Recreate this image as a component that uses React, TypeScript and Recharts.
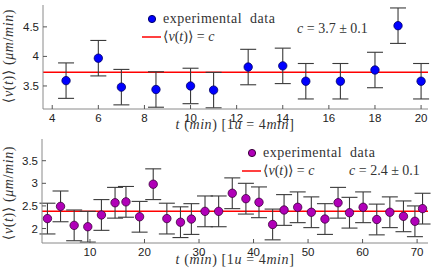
import React from 'react'
import { ComposedChart, Scatter, ErrorBar, XAxis, YAxis, ReferenceLine, Legend, Label } from 'recharts'

// top panel: 1u = 4 min sampling
const topTimes = [4.6, 6, 7, 8.5, 10, 11, 12.5, 14, 15, 16.5, 18, 19, 20]
const topSpeeds = [3.59, 3.97, 3.48, 3.44, 3.5, 3.43, 3.82, 3.84, 3.58, 3.58, 3.77, 4.52, 3.58]
const topErrors = [0.3, 0.3, 0.3, 0.3, 0.3, 0.3, 0.3, 0.3, 0.3, 0.3, 0.3, 0.3, 0.3]
const topMean = 3.73
const topXTicks = [4, 6, 8, 10, 12, 14, 16, 18, 20]
const topYTicks = [3.5, 4, 4.5]

// bottom panel
const bottomTimes = [2.2, 4.6, 7.1, 9.6, 12.1, 14.6, 16.6, 19.1, 21.6, 24.1, 26.6, 28.6, 31.1, 33.6, 36.1, 38.6, 41.0, 43.5, 45.6, 48.1, 50.6, 53.1, 55.5, 57.6, 60.1, 62.6, 65.0, 67.5, 69.6, 71.0]
const bottomSpeeds = [2.22, 2.49, 2.07, 2.04, 2.3, 2.57, 2.59, 2.26, 2.98, 2.22, 2.14, 2.21, 2.38, 2.38, 2.78, 2.66, 2.58, 2.09, 2.41, 2.47, 2.36, 2.21, 2.57, 2.35, 2.47, 2.2, 2.36, 2.27, 2.16, 2.44]
const bottomErrors = [0.34, 0.34, 0.34, 0.34, 0.34, 0.34, 0.34, 0.34, 0.34, 0.34, 0.34, 0.34, 0.34, 0.34, 0.34, 0.34, 0.34, 0.34, 0.34, 0.34, 0.34, 0.34, 0.34, 0.34, 0.34, 0.34, 0.34, 0.34, 0.34, 0.34]
const bottomMean = 2.38
const bottomXTicks = [10, 20, 30, 40, 50, 60, 70]
const bottomYTicks = [2, 2.5, 3, 3.5]

const SANS = '"Liberation Sans", Arial, sans-serif'
const SERIF = '"Liberation Serif", "DejaVu Serif", serif'
const BOX = '#8a8a8a'
const TICK = '#555'
const serif = { fontFamily: SERIF, fontSize: 14, fill: '#333' }
const sans = { fontFamily: SANS, fontSize: 11.5, fill: '#222' }

const BottomTick = ({ x, y, payload }: any) => (
  <g>
    <line x1={x} y1={y} x2={x} y2={y - 4} stroke={TICK} />
    <text x={x} y={y + 13} textAnchor="middle" style={sans}>{payload.value}</text>
  </g>
)
const LeftTick = ({ x, y, payload }: any) => (
  <g>
    <line x1={x} y1={y} x2={x + 4} y2={y} stroke={TICK} />
    <text x={x - 4} y={y + 4} textAnchor="end" style={sans}>{payload.value}</text>
  </g>
)
const TopTick = ({ x, y }: any) => <line x1={x} y1={y} x2={x} y2={y + 4} stroke={TICK} />
const RightTick = ({ x, y }: any) => <line x1={x} y1={y} x2={x - 4} y2={y} stroke={TICK} />

const yLabel = (cx: number, cy: number) => (
  <text transform={`translate(${cx},${cy}) rotate(-90)`} textAnchor="middle" style={serif} letterSpacing={0.6}>
    ⟨<tspan fontStyle="italic">v</tspan>(<tspan fontStyle="italic">t</tspan>)⟩ (<tspan fontStyle="italic">μm</tspan>/<tspan fontStyle="italic">min</tspan>)
  </text>
)
const xLabel = (cx: number, y: number) => (
  <text x={cx} y={y} textAnchor="middle" style={serif} letterSpacing={0.6}>
    <tspan fontStyle="italic">t</tspan> (<tspan fontStyle="italic">min</tspan>) [1<tspan fontStyle="italic">u</tspan> = 4<tspan fontStyle="italic">min</tspan>]
  </text>
)

function LegendBox({ color, edge, cText, cLeft }: { color: string; edge: string; cText: string; cLeft: number }) {
  return (
    <svg width={200} height={40} style={{ overflow: 'visible', display: 'block' }}>
      <circle cx={14} cy={11} r={3.6} fill={color} stroke={edge} />
      <text x={25} y={15} style={serif} letterSpacing={0.5}>
        experimental{'\u00a0\u00a0'}data
      </text>
      <line x1={4} x2={23} y1={29} y2={29} stroke="#ff0000" strokeWidth={1.5} />
      <text x={25} y={33} style={serif}>
        ⟨<tspan fontStyle="italic">v</tspan>(<tspan fontStyle="italic">t</tspan>)⟩ = <tspan fontStyle="italic">c</tspan>
      </text>
      <text x={cLeft} y={cText === 'top' ? 25 : 33} style={serif}>
        <tspan fontStyle="italic">c</tspan> = {cText === 'top' ? '3.7' : '2.4'} ± 0.1
      </text>
    </svg>
  )
}

function Panel(props: {
  width: number; height: number; top: number; left: number; xAxisH: number
  data: any[]; xDomain: [number, number]; yDomain: [number, number]
  xTicks: number[]; yTicks: number[]; mean: number
  fill: string; edge: string; legendTop: number; legendLeft: number; which: string; cLeft: number
  yLabelY: number; xLabelY: number
}) {
  const { data, xDomain, yDomain, xTicks, yTicks } = props
  return (
    <ComposedChart width={props.width} height={props.height} data={data}
      margin={{ top: props.top, right: 8, bottom: 0, left: 0 }}>
      <XAxis dataKey="t" type="number" domain={xDomain} ticks={xTicks} interval={0}
        height={props.xAxisH} tickSize={0} tickMargin={0} tick={BottomTick}
        axisLine={{ stroke: BOX }} allowDataOverflow>
        <Label content={() => xLabel(235, props.xLabelY)} />
      </XAxis>
      <XAxis xAxisId="top" orientation="top" type="number" domain={xDomain} ticks={xTicks} interval={0}
        height={0} tickSize={0} tickMargin={0} tick={TopTick} axisLine={{ stroke: BOX }} allowDataOverflow />
      <YAxis type="number" domain={yDomain} ticks={yTicks} interval={0} width={props.left}
        tickSize={0} tickMargin={0} tick={LeftTick} axisLine={{ stroke: BOX }} allowDataOverflow>
        <Label content={() => yLabel(13, props.yLabelY)} />
      </YAxis>
      <YAxis yAxisId="r" orientation="right" type="number" domain={yDomain} ticks={yTicks} interval={0}
        width={0} tickSize={0} tickMargin={0} tick={RightTick} axisLine={{ stroke: BOX }} allowDataOverflow />
      <ReferenceLine y={props.mean} stroke="#ff0000" strokeWidth={1.5} />
      <Scatter dataKey="v" isAnimationActive={false}
        shape={(p: any) => <circle cx={p.cx} cy={p.cy} r={4.2} fill={props.fill} stroke={props.edge} strokeWidth={0.8} />}>
        <ErrorBar dataKey="err" direction="y" width={8} stroke="#3a3a3a" strokeWidth={1.1} isAnimationActive={false} />
      </Scatter>
      <Legend align="center" verticalAlign="middle"
        wrapperStyle={{ left: props.legendLeft, top: props.legendTop, width: 200, height: 40 }}
        content={() => <LegendBox color={props.fill} edge={props.edge} cText={props.which} cLeft={props.cLeft} />} />
    </ComposedChart>
  )
}

export default function App() {
  const topData = topTimes.map((t, i) => ({ t, v: topSpeeds[i], err: topErrors[i] }))
  const bottomData = bottomTimes.map((t, i) => ({ t, v: bottomSpeeds[i], err: bottomErrors[i] }))
  return (
    <div style={{ position: 'absolute', left: 0, top: 0, width: 436, height: 273, background: '#fff' }}>
      <Panel width={436} height={137} top={5} left={43} xAxisH={28} data={topData}
        xDomain={[3.6, 20.3]} yDomain={[3.11, 4.87]} xTicks={topXTicks} yTicks={topYTicks} mean={topMean}
        fill="#0000ff" edge="#000066" legendTop={8} legendLeft={138} which="top" cLeft={159}
        yLabelY={56} xLabelY={129} />
      <Panel width={436} height={136} top={2} left={42} xAxisH={30} data={bottomData}
        xDomain={[1.2, 72]} yDomain={[1.68, 3.98]} xTicks={bottomXTicks} yTicks={bottomYTicks} mean={bottomMean}
        fill="#b000b8" edge="#3a003a" legendTop={5} legendLeft={238} which="bottom" cLeft={111}
        yLabelY={56} xLabelY={127} />
    </div>
  )
}
